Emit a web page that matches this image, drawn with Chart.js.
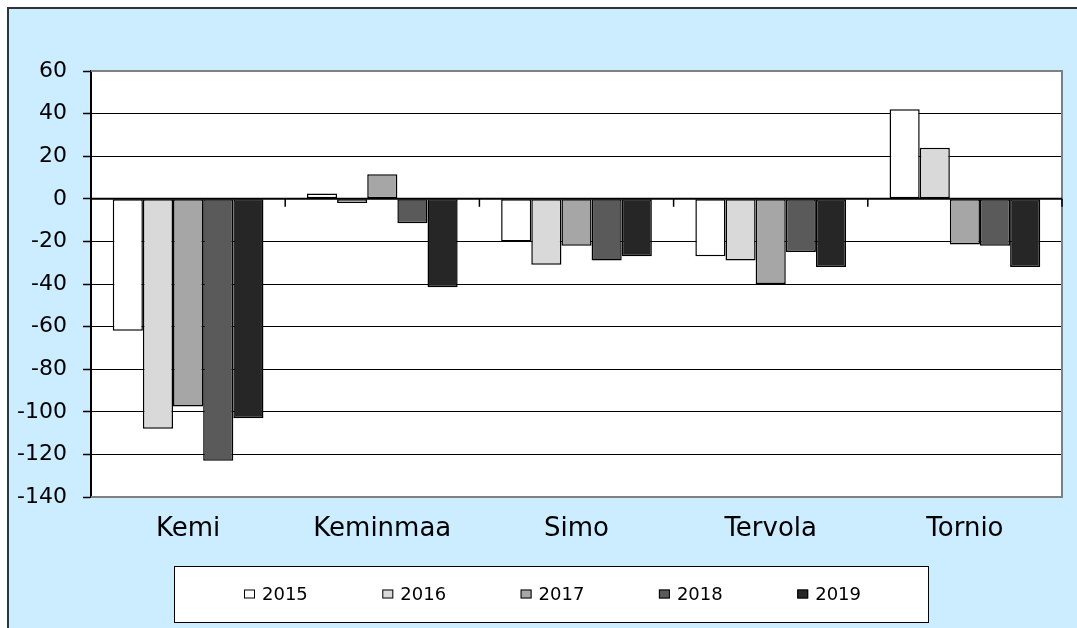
<!DOCTYPE html>
<html><head><meta charset="utf-8">
<script src="https://cdn.jsdelivr.net/npm/chart.js@4.4.1/dist/chart.umd.min.js"></script>
<style>
html,body{margin:0;padding:0;background:#fff;overflow:hidden;width:1077px;height:628px;}
#frame{position:absolute;left:7px;top:7px;width:1200px;height:800px;background:#CCECFF;border-left:2px solid #333;border-top:2px solid #333;}
#c{position:absolute;left:0;top:0;}
</style></head><body>
<div id="frame"></div>
<canvas id="c" width="1077" height="628"></canvas>
<script>
const categories = ['Kemi', 'Keminmaa', 'Simo', 'Tervola', 'Tornio'];
const seriesLabels = ['2015', '2016', '2017', '2018', '2019'];
const values2015 = [-62, 2.5, -20, -27, 42];
const values2016 = [-108, -2, -31, -29, 24];
const values2017 = [-97.5, 11.5, -22, -40, -21.5];
const values2018 = [-123, -11.5, -29, -25, -22];
const values2019 = [-103, -41.5, -27, -32, -32];
const yMin = -140, yMax = 60, yStep = 20;
const seriesColors = ['#FFFFFF', '#D9D9D9', '#A6A6A6', '#5A5A5A', '#262626'];

const FONT = '"DejaVu Sans", "Liberation Sans", Arial, sans-serif';
const allValues = [values2015, values2016, values2017, values2018, values2019];

const plotDecor = {
  id: 'plotDecor',
  beforeDraw(chart) {
    const {ctx, chartArea: a} = chart;
    ctx.save();
    ctx.fillStyle = '#fff';
    ctx.fillRect(a.left, a.top, a.right - a.left, a.bottom - a.top);
    ctx.restore();
  },
  afterDatasetsDraw(chart) {
    const {ctx, chartArea: a, scales: {x, y}} = chart;
    const z = y.getPixelForValue(0);
    ctx.save();
    ctx.strokeStyle = '#808080'; ctx.lineWidth = 2;
    ctx.beginPath();
    ctx.moveTo(a.left, a.top); ctx.lineTo(a.right, a.top);
    ctx.lineTo(a.right, a.bottom); ctx.lineTo(a.left, a.bottom);
    ctx.stroke();
    ctx.strokeStyle = '#000'; ctx.lineWidth = 2;
    ctx.beginPath(); ctx.moveTo(a.left, z); ctx.lineTo(a.right, z); ctx.stroke();
    ctx.lineWidth = 1.5;
    const n = categories.length;
    for (let i = 0; i <= n; i++) {
      const px = i === 0 ? a.left : (i === n ? a.right : (x.getPixelForValue(i - 1) + x.getPixelForValue(i)) / 2);
      ctx.beginPath(); ctx.moveTo(px, z); ctx.lineTo(px, z + 8); ctx.stroke();
    }
    ctx.restore();
  }
};

const boxLegend = {
  id: 'boxLegend',
  afterDraw(chart, args, o) {
    const ctx = chart.ctx;
    ctx.save();
    ctx.fillStyle = '#fff'; ctx.strokeStyle = '#000'; ctx.lineWidth = 1;
    ctx.fillRect(o.x, o.y, o.w, o.h);
    ctx.strokeRect(o.x + 0.5, o.y + 0.5, o.w, o.h);
    ctx.font = '18px ' + FONT;
    ctx.textBaseline = 'middle';
    const cy = o.y + o.h / 2;
    chart.data.datasets.forEach((ds, i) => {
      const bx = o.firstX + i * o.step;
      ctx.fillStyle = ds.backgroundColor;
      ctx.fillRect(bx, cy - 4.5, 11, 9);
      ctx.strokeStyle = '#000';
      ctx.strokeRect(bx + 0.5, cy - 4, 10, 8);
      ctx.fillStyle = '#000';
      ctx.fillText(ds.label, bx + 18, cy + 1);
    });
    ctx.restore();
  }
};

new Chart(document.getElementById('c'), {
  type: 'bar',
  data: {
    labels: categories,
    datasets: seriesLabels.map((lab, i) => ({
      label: lab,
      data: allValues[i],
      backgroundColor: seriesColors[i],
      borderColor: '#000',
      borderWidth: 1.5,
      borderSkipped: false,
      categoryPercentage: 0.776,
      barPercentage: 1.0
    }))
  },
  options: {
    responsive: false,
    animation: false,
    devicePixelRatio: 1,
    layout: {padding: {left: 3, right: 15, top: 71, bottom: 84}},
    plugins: {
      legend: {display: false},
      tooltip: {enabled: false},
      boxLegend: {x: 174, y: 566, w: 754, h: 56, firstX: 244, step: 138.3}
    },
    scales: {
      x: {
        grid: {display: false, drawTicks: false},
        border: {display: false},
        ticks: {font: {family: FONT, size: 26}, color: '#000', padding: 17, maxRotation: 0},
        afterFit(s) { s.height = 47; }
      },
      y: {
        min: yMin, max: yMax,
        ticks: {stepSize: yStep, font: {family: FONT, size: 22}, color: '#000', padding: 16},
        grid: {
          color: (c) => (c.tick && (c.tick.value === yMax || c.tick.value === yMin)) ? 'rgba(0,0,0,0)' : '#000',
          lineWidth: 1,
          tickColor: '#000',
          tickWidth: 1.5,
          tickLength: 8,
          drawTicks: true
        },
        border: {display: true, color: '#000', width: 2},
        afterFit(s) { s.width = 88; }
      }
    }
  },
  plugins: [plotDecor, boxLegend]
});
</script>
</body></html>
